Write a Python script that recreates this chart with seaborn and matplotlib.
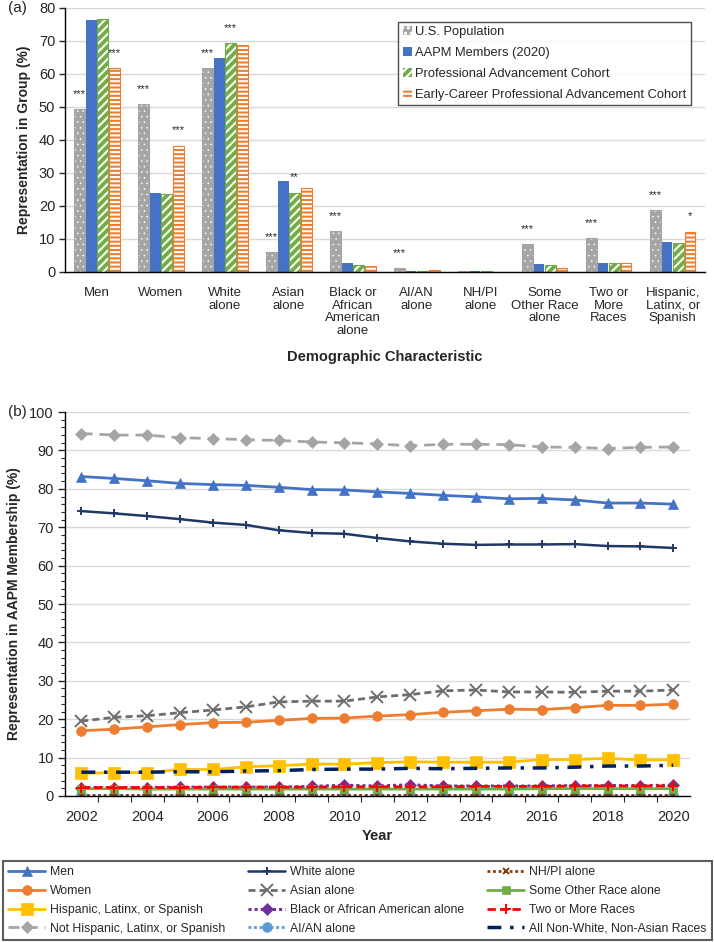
import matplotlib
matplotlib.use("Agg")
import matplotlib.pyplot as plt
from matplotlib.patches import Rectangle
from matplotlib.ticker import MultipleLocator
import pandas as pd
import seaborn as sns

# ---- panel (a): representation by demographic group ----
CATEGORIES = [
    "Men", "Women", "White\nalone", "Asian\nalone",
    "Black or\nAfrican\nAmerican\nalone", "AI/AN\nalone", "NH/PI\nalone",
    "Some\nOther Race\nalone", "Two or\nMore\nRaces", "Hispanic,\nLatinx, or\nSpanish",
]
GROUPS = [
    "U.S. Population",
    "AAPM Members (2020)",
    "Professional Advancement Cohort",
    "Early-Career Professional Advancement Cohort",
]
US_POP = [49.3, 50.9, 61.8, 6.0, 12.4, 1.2, 0.2, 8.4, 10.2, 18.7]
AAPM_2020 = [76.3, 24.0, 64.7, 27.7, 2.7, 0.3, 0.2, 2.3, 2.8, 9.2]
PAC = [76.6, 23.7, 69.4, 24.0, 2.1, 0.2, 0.3, 2.0, 2.6, 8.8]
EARLY_PAC = [61.8, 38.3, 68.7, 25.5, 1.8, 0.6, 0.0, 1.3, 2.6, 12.2]
# (category index, group index, significance)
STARS = [
    (0, 0, "***"), (0, 3, "***"), (1, 0, "***"), (1, 3, "***"),
    (2, 0, "***"), (2, 2, "***"), (3, 0, "***"), (3, 2, "**"),
    (4, 0, "***"), (5, 0, "***"), (7, 0, "***"), (8, 0, "***"),
    (9, 0, "***"), (9, 3, "*"),
]

# ---- panel (b): AAPM membership over time ----
YEARS = list(range(2002, 2021))
MEN = [83.2, 82.7, 82.1, 81.4, 81.1, 80.9, 80.4, 79.8, 79.7, 79.2, 78.8,
       78.3, 77.9, 77.4, 77.5, 77.1, 76.3, 76.3, 76.0]
WOMEN = [17.0, 17.4, 18.0, 18.6, 19.1, 19.2, 19.7, 20.2, 20.3, 20.8, 21.2,
         21.8, 22.2, 22.6, 22.5, 23.0, 23.6, 23.6, 23.9]
HISPANIC = [5.9, 6.1, 6.1, 6.9, 6.9, 7.6, 7.9, 8.3, 8.3, 8.7, 8.9,
            8.8, 8.8, 8.8, 9.5, 9.5, 9.8, 9.4, 9.4]
NOT_HISPANIC = [94.4, 94.0, 94.0, 93.3, 93.1, 92.8, 92.6, 92.2, 92.0, 91.7, 91.2,
                91.6, 91.6, 91.5, 90.9, 90.8, 90.5, 90.8, 90.9]
WHITE = [74.2, 73.6, 72.9, 72.1, 71.2, 70.6, 69.2, 68.5, 68.3, 67.2, 66.3,
         65.7, 65.4, 65.5, 65.5, 65.6, 65.1, 65.0, 64.6]
ASIAN = [19.5, 20.5, 20.9, 21.7, 22.4, 23.2, 24.5, 24.7, 24.7, 25.8, 26.4,
         27.4, 27.6, 27.1, 27.1, 27.0, 27.3, 27.3, 27.6]
BLACK = [2.2, 2.2, 2.2, 2.3, 2.3, 2.3, 2.3, 2.5, 2.8, 2.6, 2.9,
         2.6, 2.6, 2.6, 2.6, 2.7, 2.7, 2.7, 2.8]
AIAN = [0.3, 0.3, 0.3, 0.3, 0.3, 0.3, 0.3, 0.3, 0.3, 0.3, 0.3,
        0.3, 0.3, 0.3, 0.3, 0.3, 0.3, 0.3, 0.3]
NHPI = [0.2, 0.2, 0.2, 0.2, 0.2, 0.2, 0.2, 0.2, 0.2, 0.2, 0.2,
        0.2, 0.2, 0.2, 0.2, 0.2, 0.2, 0.2, 0.2]
SOME_OTHER = [1.9, 1.9, 1.8, 1.8, 1.8, 1.8, 1.8, 1.8, 1.8, 1.8, 1.8,
              1.8, 1.8, 1.8, 1.9, 1.9, 1.9, 1.9, 1.9]
TWO_OR_MORE = [2.2, 2.2, 2.2, 2.2, 2.3, 2.3, 2.3, 2.3, 2.4, 2.4, 2.4,
               2.4, 2.5, 2.5, 2.5, 2.6, 2.6, 2.6, 2.6]
NON_WHITE_NON_ASIAN = [6.2, 6.2, 6.2, 6.3, 6.3, 6.5, 6.6, 6.9, 7.0, 7.0, 7.2,
                       7.1, 7.2, 7.3, 7.3, 7.5, 7.8, 7.8, 8.0]

sns.set_theme(style="white")
plt.rcParams["font.family"] = ["Liberation Sans", "DejaVu Sans"]
plt.rcParams["hatch.linewidth"] = 1.5
GRID = "#d9d9d9"

fig = plt.figure(figsize=(7.14, 9.42), dpi=100)

# ================= panel (a) =================
ax1 = fig.add_axes([0.091, 0.7113, 0.896, 0.2803])
bars = pd.DataFrame({
    "category": CATEGORIES * 4,
    "group": [g for g in GROUPS for _ in CATEGORIES],
    "value": US_POP + AAPM_2020 + PAC + EARLY_PAC,
})
bar_colors = ["#a5a5a5", "#4472c4", "#70ad47", "#ed7d31"]
hatches = ["...", None, "////", "----"]
hatch_widths = [0.4, None, 1.5, 1.5]
sns.barplot(data=bars, x="category", y="value", hue="group", hue_order=GROUPS,
            palette=bar_colors, width=0.72, gap=0.06, legend=False, ax=ax1)

for container, color, hatch, hw in zip(ax1.containers, bar_colors, hatches,
                                       hatch_widths):
    for p in container.patches:
        p.set_facecolor(color)
        if hatch:
            p.set_hatch(hatch)
            if hasattr(p, "set_hatch_linewidth"):
                p.set_hatch_linewidth(hw)
            p.set_edgecolor("white")
            p.set_linewidth(0)
            if p.get_height() > 0:
                ax1.add_patch(Rectangle(p.get_xy(), p.get_width(), p.get_height(),
                                        fill=False, edgecolor=color, lw=0.8))
        else:
            p.set_edgecolor("none")

for ci, gi, s in STARS:
    p = ax1.containers[gi].patches[ci]
    ax1.annotate(s, (p.get_x() + p.get_width() / 2, p.get_height()),
                 xytext=(0, 11), textcoords="offset points",
                 ha="center", va="center", fontsize=8)

ax1.set_ylim(0, 80)
ax1.set_xlim(-0.5, len(CATEGORIES) - 0.5)
ax1.yaxis.set_major_locator(MultipleLocator(10))
ax1.set_axisbelow(True)
ax1.grid(axis="y", color=GRID, lw=1)
sns.despine(ax=ax1)
for side in ["left", "bottom"]:
    ax1.spines[side].set_color("black")
    ax1.spines[side].set_linewidth(1.0)
ax1.tick_params(axis="y", left=True, length=4, width=1, labelsize=10.5, pad=3)
ax1.tick_params(axis="x", bottom=False, pad=5)
for lab in ax1.get_xticklabels():
    lab.set_fontsize(9.5)
    lab.set_linespacing(1.05)
ax1.set_xlabel("Demographic Characteristic", fontsize=10.5, fontweight="bold",
               labelpad=10)
ax1.set_ylabel("Representation in Group (%)", fontsize=10, fontweight="bold",
               labelpad=6)
leg1 = ax1.legend(ax1.containers, GROUPS, loc="upper right",
                  bbox_to_anchor=(0.978, 0.947), borderaxespad=0,
                  fontsize=9.3, handlelength=0.7, handleheight=0.7,
                  handletextpad=0.25, labelspacing=0.68, fancybox=False,
                  frameon=True, borderpad=0.35)
leg1.get_frame().set_edgecolor("#222222")
leg1.get_frame().set_linewidth(1.0)
fig.text(0.011, 0.991, "(a)", fontsize=11, va="center", ha="left")

# ================= panel (b) =================
ax2 = fig.add_axes([0.091, 0.155, 0.875, 0.4076])
series = [
    ("Men", MEN, "#4472c4", "^", 7.5, "-", 2.0),
    ("Women", WOMEN, "#ed7d31", "o", 7, "-", 2.0),
    ("Hispanic, Latinx, or Spanish", HISPANIC, "#ffc000", "s", 8, "-", 2.0),
    ("Not Hispanic, Latinx, or Spanish", NOT_HISPANIC, "#a5a5a5", "D", 6,
     (0, (4, 2.5)), 2.0),
    ("White alone", WHITE, "#1f3864", "+", 6, "-", 1.8),
    ("Asian alone", ASIAN, "#6d6d6d", "x", 8, (0, (2.5, 1.5)), 2.0),
    ("Black or African American alone", BLACK, "#7030a0", "D", 6.5,
     (0, (1, 1)), 2.2),
    ("AI/AN alone", AIAN, "#5b9bd5", "o", 7, (0, (1, 1)), 2.0),
    ("NH/PI alone", NHPI, "#843c0c", "x", 4, (0, (1, 1)), 2.0),
    ("Some Other Race alone", SOME_OTHER, "#70ad47", "s", 6, "-", 2.0),
    ("Two or More Races", TWO_OR_MORE, "#ff0000", "+", 7.5, (0, (3, 1.5)), 2.0),
    ("All Non-White, Non-Asian Races", NON_WHITE_NON_ASIAN, "#002060", None, 0,
     (0, (4, 2.5, 1, 2.5)), 2.5),
]
for name, vals, color, marker, ms, ls, lw in series:
    sns.lineplot(x=YEARS, y=vals, ax=ax2, color=color, marker=marker,
                 markersize=ms, markeredgecolor=color,
                 markeredgewidth=1.4 if marker in ("+", "x") else 0.5,
                 linestyle=ls, linewidth=lw, label=name, legend=False)

ax2.set_ylim(0, 100)
ax2.set_xlim(2001.5, 2020.5)
ax2.yaxis.set_major_locator(MultipleLocator(10))
ax2.yaxis.set_minor_locator(MultipleLocator(2))
ax2.xaxis.set_major_locator(MultipleLocator(2))
ax2.set_xticks([y + 0.5 for y in YEARS[:-1]], minor=True)
ax2.set_axisbelow(True)
ax2.grid(axis="y", which="major", color=GRID, lw=1)
sns.despine(ax=ax2)
for side in ["left", "bottom"]:
    ax2.spines[side].set_color("black")
    ax2.spines[side].set_linewidth(1.0)
ax2.tick_params(axis="y", which="major", left=True, length=5, width=1,
                labelsize=10.5, pad=3)
ax2.tick_params(axis="y", which="minor", left=True, length=3, width=0.8)
ax2.tick_params(axis="x", which="major", bottom=False, labelsize=10.5, pad=4)
ax2.tick_params(axis="x", which="minor", bottom=True, length=4, width=0.8)
ax2.set_xlabel("Year", fontsize=10.5, fontweight="bold", labelpad=4)
ax2.set_ylabel("Representation in AAPM Membership (%)", fontsize=10,
               fontweight="bold", labelpad=6)
fig.text(0.011, 0.5626, "(b)", fontsize=11, va="center", ha="left")

handles, labels = ax2.get_legend_handles_labels()
leg2 = fig.legend(handles, labels, loc="lower left", ncol=3, mode="expand",
                  bbox_to_anchor=(0.004, 0.002, 0.993, 0.094),
                  fontsize=8.8, handlelength=3.0, handletextpad=0.4,
                  labelspacing=0.55, fancybox=False, borderaxespad=0,
                  borderpad=0.45, columnspacing=1.0)
leg2.get_frame().set_edgecolor("#333333")
leg2.get_frame().set_linewidth(1.5)

fig.savefig("out.png", dpi=100)
